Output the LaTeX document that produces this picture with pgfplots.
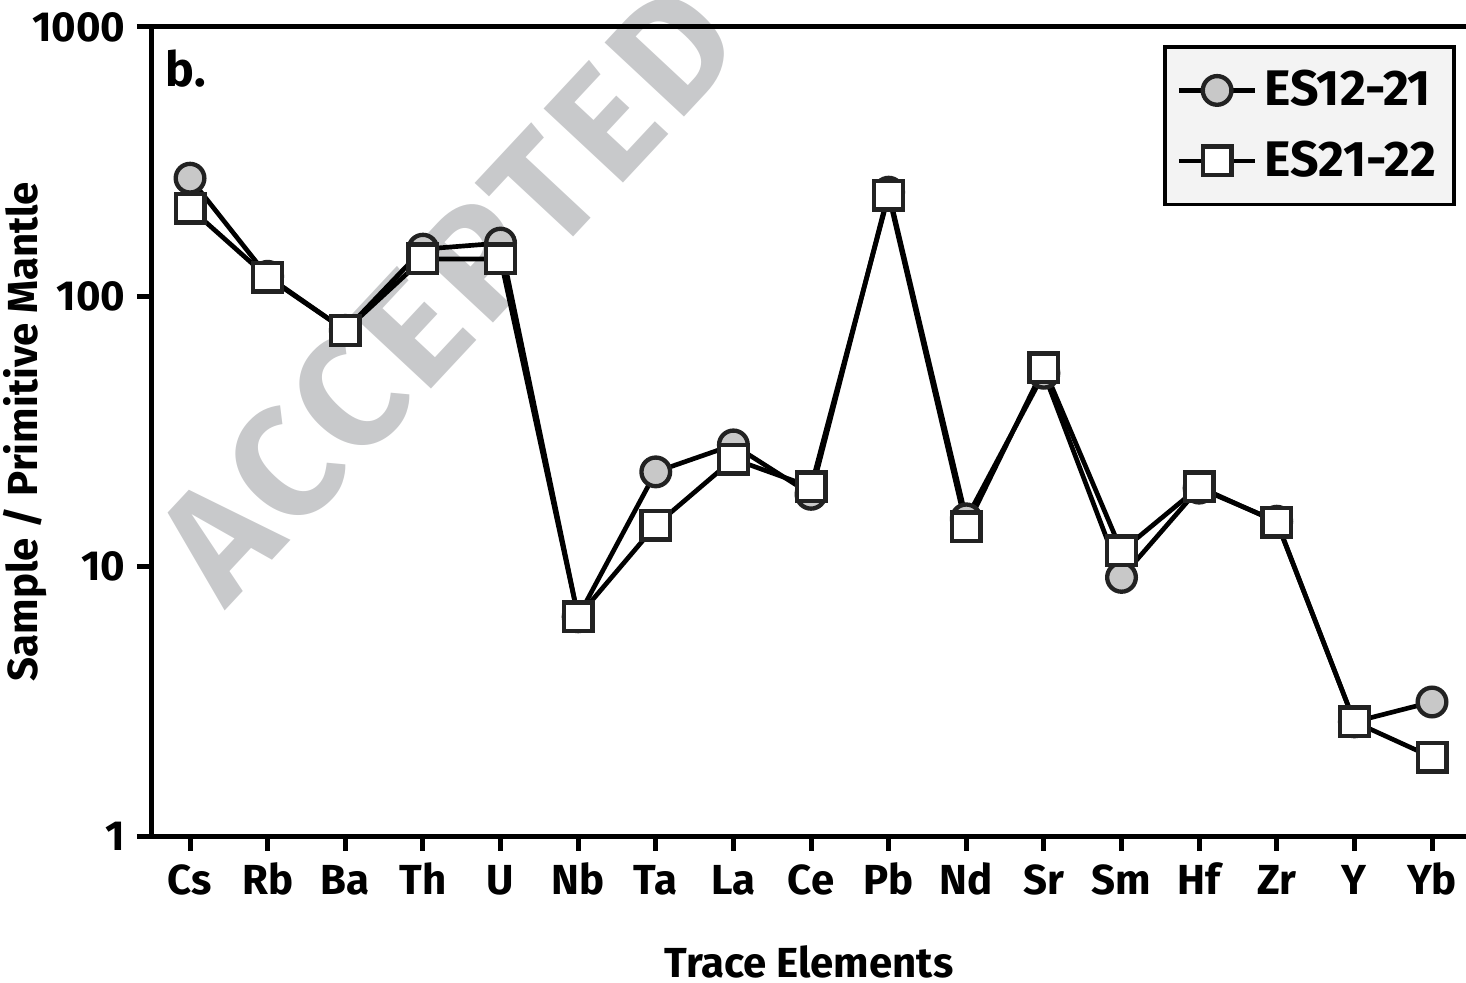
\documentclass[border=0pt]{standalone}
\usepackage{fontspec}
\setmainfont{Fira Sans}[BoldFont=* Bold]
\newfontfamily\wmfont{Fira Sans Bold}[LetterSpace=5]
\usepackage{pgfplots}
\pgfplotsset{compat=1.18}
\definecolor{wm}{HTML}{C8C9CB}
\definecolor{mk}{HTML}{222222}
\definecolor{cfill}{HTML}{C8C8C8}
\definecolor{lg}{HTML}{F3F3F3}
\begin{document}
\begin{tikzpicture}
\path[use as bounding box] (-45.6pt,-44.1pt) rectangle (394.2pt,250.8pt);
\node[wm, font=\fontsize{47}{47}\selectfont\wmfont, rotate=47, inner sep=0] at (88.5pt,163pt) {ACCEPTED};
\begin{axis}[
  scale only axis,
  width=394.2pt, height=242.7pt,
  axis x line*=bottom, axis y line*=left,
  axis line style={line width=1.5pt},
  xmin=-0.49, xmax=16.438,
  ymode=log, ymin=1, ymax=1000,
  ytick={1,10,100,1000}, yticklabels={1,10,100,1000},
  yminorticks=false,
  xtick={0,...,16},
  xticklabels={Cs,Rb,Ba,Th,U,Nb,Ta,La,Ce,Pb,Nd,Sr,Sm,Hf,Zr,Y,Yb},
  tick align=outside,
  major tick length=4.5pt,
  every tick/.style={line width=1.5pt, black},
  ticklabel style={font=\fontsize{12.6}{14}\selectfont\bfseries},
  xticklabel style={text height=9.6pt, text depth=0pt},
  label style={font=\fontsize{12.6}{14}\selectfont\bfseries},
  xlabel={Trace Elements},
  ylabel={Sample / Primitive Mantle},
  xlabel style={at={(axis description cs:0.5,-0.1745)}, anchor=base},
  ylabel style={at={(axis description cs:-0.0967,0.5)}, anchor=center},
  clip=false,
  legend style={at={(rel axis cs:0.9924,0.9777)}, anchor=north east,
    fill=lg, draw=black, line width=1.1pt, font=\fontsize{15}{17}\selectfont\bfseries,
    row sep=5pt, inner xsep=3.5pt, inner ysep=5pt, cells={anchor=west}},
  legend image code/.code={\draw[line width=1.35pt, mark repeat=2,mark phase=2] plot coordinates {(0pt,0pt)(11.5pt,0pt)(23pt,0pt)};},
  legend cell align=left,
]
\draw[line width=1.5pt] (rel axis cs:0,1) -- (rel axis cs:1,1);
\node[anchor=north west, inner sep=0, font=\fontsize{14.5}{16}\selectfont\bfseries] at ([xshift=4pt,yshift=-6.5pt]rel axis cs:0,1) {b.};
\addplot[black, line width=1.4pt, mark=*, mark size=4.3pt, mark options={fill=cfill, draw=mk, line width=1.3pt}] coordinates {
(0,275) (1,119) (2,75) (3,150) (4,158) (5,6.5) (6,22.4) (7,28.2) (8,18.5) (9,244) (10,15) (11,52) (12,9.1) (13,19.5) (14,14.7) (15,2.65) (16,3.14)};
\addlegendentry{ES12-21}
\addplot[black, line width=1.4pt, mark=square*, mark size=4.3pt, mark options={fill=white, draw=mk, line width=1.3pt}] coordinates {
(0,213) (1,118) (2,75) (3,138) (4,138) (5,6.5) (6,14.2) (7,25) (8,19.7) (9,238) (10,14) (11,54.4) (12,11.4) (13,19.7) (14,14.6) (15,2.65) (16,1.96)};
\addlegendentry{ES21-22}
\end{axis}
\end{tikzpicture}
\end{document}
